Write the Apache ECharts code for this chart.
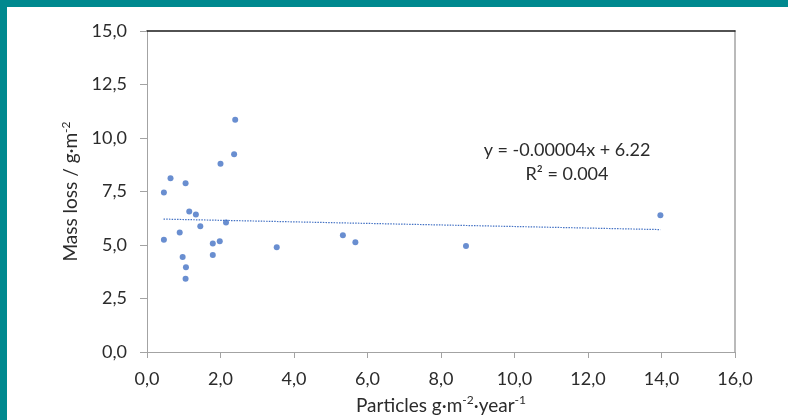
<!DOCTYPE html>
<html>
<head>
<meta charset="utf-8">
<script src="https://cdn.jsdelivr.net/npm/echarts@6/dist/echarts.min.js"></script>
<style>
  html, body { margin: 0; padding: 0; background: #fff; }
  #chart { width: 788px; height: 420px; }
</style>
</head>
<body>
<div id="chart"></div>
<script>
// Particle deposition (g·m⁻²·year⁻¹) against mass loss (g·m⁻²)
const particles = [2.40, 2.37, 2.00, 0.64, 1.05, 0.46, 1.15, 1.33, 2.15, 1.45, 0.89, 0.46,
                   1.79, 1.98, 3.53, 0.97, 1.79, 1.06, 1.05, 5.33, 5.67, 8.68, 13.97];
const massLoss  = [10.85, 9.24, 8.80, 8.12, 7.88, 7.45, 6.57, 6.42, 6.05, 5.88, 5.58, 5.24,
                   5.07, 5.18, 4.89, 4.44, 4.53, 3.96, 3.42, 5.46, 5.13, 4.95, 6.39];

// Linear trendline end points
const trendX = [0.45, 13.97];
const trendY = [6.21, 5.72];

// Axis ranges: [min, max, step]
const xRange = [0, 16, 2];
const yRange = [0, 15, 2.5];

const equationLines = ['y = -0.00004x + 6.22', 'R² = 0.004'];

const FONT = 'Lato';
const TEXT = '#2b2b2b';
const AXIS_GRAY = '#a3a3a3';
const BLUE = '#4472C4';
const TEAL = '#00898F';

const comma = v => v.toFixed(1).replace('.', ',');

const nameRich = {
  n: { fontFamily: FONT, fontSize: 19, color: TEXT, lineHeight: 21, verticalAlign: 'bottom' },
  s: { fontFamily: FONT, fontSize: 12, color: TEXT, lineHeight: 21, verticalAlign: 'top' }
};

const chart = echarts.init(document.getElementById('chart'), null, { renderer: 'canvas' });

chart.setOption({
  backgroundColor: '#fff',
  animation: false,
  grid: { left: 147, right: 53, top: 31, bottom: 65 },
  xAxis: [{
    type: 'value',
    min: xRange[0], max: xRange[1], interval: xRange[2],
    position: 'bottom',
    splitLine: { show: false },
    axisLine: { show: true, onZero: false, lineStyle: { color: AXIS_GRAY, width: 1 } },
    axisTick: { show: true, inside: false, length: 6, lineStyle: { color: AXIS_GRAY } },
    axisLabel: { margin: 18, color: TEXT, fontFamily: FONT, fontSize: 18, formatter: comma },
    name: '{n|Particles g·m}{s|-2}{n|·year}{s|-1}',
    nameLocation: 'middle',
    nameGap: 42,
    nameTextStyle: { rich: nameRich }
  }, {
    type: 'value',
    min: xRange[0], max: xRange[1],
    position: 'top',
    splitLine: { show: false },
    axisLine: { show: true, onZero: false, lineStyle: { color: '#1a1a1a', width: 1.5 } },
    axisTick: { show: false },
    axisLabel: { show: false }
  }],
  yAxis: [{
    type: 'value',
    min: yRange[0], max: yRange[1], interval: yRange[2],
    position: 'left',
    splitLine: { show: false },
    axisLine: { show: true, onZero: false, lineStyle: { color: AXIS_GRAY, width: 1 } },
    axisTick: { show: true, inside: false, length: 7, lineStyle: { color: AXIS_GRAY } },
    axisLabel: { margin: 20, color: TEXT, fontFamily: FONT, fontSize: 18, formatter: comma },
    name: '{n|Mass loss / g·m}{s|-2}',
    nameLocation: 'middle',
    nameRotate: 90,
    nameGap: 61,
    nameTextStyle: { rich: nameRich }
  }, {
    type: 'value',
    min: yRange[0], max: yRange[1],
    position: 'right',
    splitLine: { show: false },
    axisLine: { show: true, onZero: false, lineStyle: { color: AXIS_GRAY, width: 1.5 } },
    axisTick: { show: false },
    axisLabel: { show: false }
  }],
  series: [{
    type: 'line',
    xAxisIndex: 0, yAxisIndex: 0,
    data: trendX.map((x, i) => [x, trendY[i]]),
    symbol: 'none',
    silent: true,
    lineStyle: { color: BLUE, width: 1.2, type: [1.5, 1.2] },
    z: 2
  }, {
    type: 'scatter',
    xAxisIndex: 0, yAxisIndex: 0,
    data: particles.map((x, i) => [x, massLoss[i]]),
    symbol: 'circle',
    symbolSize: 6,
    itemStyle: { color: BLUE },
    z: 3
  }],
  graphic: [
    { type: 'rect', left: 0, top: 0, shape: { width: 788, height: 7 }, style: { fill: TEAL }, z: 10 },
    { type: 'rect', left: 0, top: 0, shape: { width: 7, height: 420 }, style: { fill: TEAL }, z: 10 },
    {
      type: 'text',
      x: 567, y: 162,
      style: {
        text: equationLines.join('\n'),
        fontFamily: FONT, fontSize: 18, fill: TEXT,
        align: 'center', verticalAlign: 'middle', lineHeight: 24
      },
      z: 10
    }
  ]
});
</script>
</body>
</html>
